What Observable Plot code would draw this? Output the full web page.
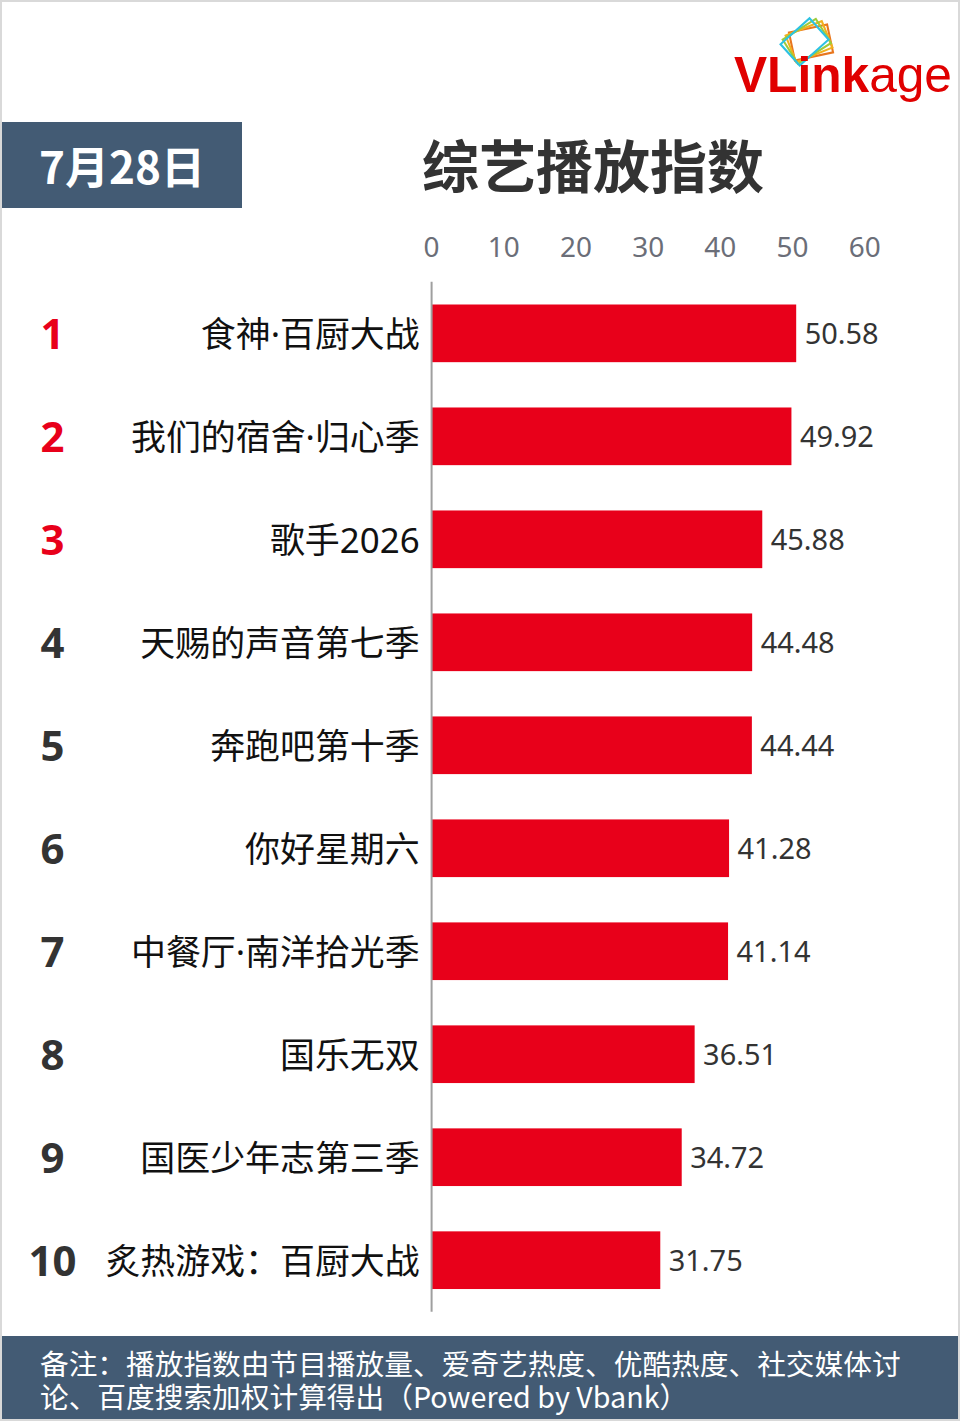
<!DOCTYPE html>
<html><head><meta charset="utf-8">
<script src="https://cdn.jsdelivr.net/npm/d3@7"></script>
<script src="https://cdn.jsdelivr.net/npm/@observablehq/plot@0.6"></script>
<style>
html,body{margin:0;padding:0;background:#fff;}
#page{position:relative;width:956px;height:1417px;border:2px solid #d9d9d9;background:#fff;overflow:hidden;font-family:"Noto Sans CJK SC","Noto Sans",sans-serif;}
#date{position:absolute;left:0;top:120px;width:240px;height:86px;background:#435b74;color:#fff;font-weight:700;font-size:44px;display:flex;align-items:center;justify-content:center;}
#title{position:absolute;left:391px;top:116px;width:400px;height:90px;text-align:center;font-weight:700;font-size:57px;line-height:90px;color:#333;}
#chart{position:absolute;left:-2px;top:206px;}
#footer{position:absolute;left:0;top:1334px;width:956px;height:83px;background:#435b74;color:#fff;font-size:28.7px;padding:0 0 0 38px;box-sizing:border-box;white-space:nowrap;}
#footer div{height:33px;line-height:33px;}
#footer div:first-child{margin-top:10px;}
#logo{position:absolute;left:726px;top:10px;}
</style></head>
<body><div id="page">
<svg id="logo" width="232" height="94" viewBox="0 0 232 94">
  <g transform="translate(82,32) scale(1.3)">
    <rect x="-14" y="-12" width="30" height="22" fill="none" stroke="#e8761e" stroke-width="1.6" transform="rotate(-12)"/>
    <rect x="-15" y="-13" width="30" height="22" fill="none" stroke="#f2b11d" stroke-width="1.6" transform="rotate(-22)"/>
    <rect x="-16" y="-14" width="30" height="22" fill="none" stroke="#9dcb3a" stroke-width="1.6" transform="rotate(-32)"/>
    <rect x="-17" y="-15" width="30" height="22" fill="none" stroke="#2cc2e2" stroke-width="1.6" transform="rotate(-42)"/>
  </g>
  <text x="6" y="80" font-family="Liberation Sans, Arial, sans-serif" font-size="50" textLength="218" lengthAdjust="spacingAndGlyphs" fill="#e00000"><tspan font-weight="700">VLink</tspan><tspan font-weight="400">age</tspan></text>
</svg>
<div id="date">7月28日</div>
<div id="title">综艺播放指数</div>
<div id="chart"></div>
<div id="footer"><div>备注：播放指数由节目播放量、爱奇艺热度、优酷热度、社交媒体讨</div><div>论、百度搜索加权计算得出（Powered by Vbank）</div></div>
</div>
<script>
const ranks = [1,2,3,4,5,6,7,8,9,10];
const names = ["食神·百厨大战","我们的宿舍·归心季","歌手2026","天赐的声音第七季","奔跑吧第十季","你好星期六","中餐厅·南洋拾光季","国乐无双","国医少年志第三季","炙热游戏：百厨大战"];
const values = [50.58,49.92,45.88,44.48,44.44,41.28,41.14,36.51,34.72,31.75];
const xTicks = [0,10,20,30,40,50,60];

const data = names.map((n,i)=>({rank:ranks[i], name:n, value:values[i]}));
const red = "#e8001a";
const font = '"Noto Sans","Noto Sans CJK SC",sans-serif';

const chart = Plot.plot({
  width: 960,
  height: 1126,
  marginLeft: 432,
  marginRight: 94,
  marginTop: 74,
  marginBottom: 20,
  style: {fontFamily: font, background: "transparent"},
  x: {domain: [0,60], axis: null, label: null},
  y: {domain: names, axis: null, paddingInner: 0.44, paddingOuter: 0.22, round: false},
  marks: [
    Plot.axisX(xTicks, {anchor: "top", label: null, tickSize: 0, tickPadding: 25, fontSize: 28, fill: "#6b6e78"}),
    Plot.barX(data, {x: "value", y: "name", fill: red}),
    Plot.ruleX([0], {stroke: "#9f9f9f", strokeWidth: 2}),
    Plot.text(data, {x: "value", y: "name", text: d => d.value.toFixed(2), dx: 8, dy: 1, textAnchor: "start", fontSize: 29, fill: "#333"}),
    Plot.text(data, {y: "name", text: "name", frameAnchor: "left", dx: -12, dy: 2, textAnchor: "end", fontSize: 35, fill: "#111"}),
    Plot.text(data, {y: "name", text: d => String(d.rank), frameAnchor: "left", dx: -380, dy: 2, textAnchor: "middle", fontSize: 42, fontWeight: 700, fill: d => d.rank <= 3 ? red : "#333"})
  ]
});
document.getElementById("chart").appendChild(chart);
</script>
</body></html>
